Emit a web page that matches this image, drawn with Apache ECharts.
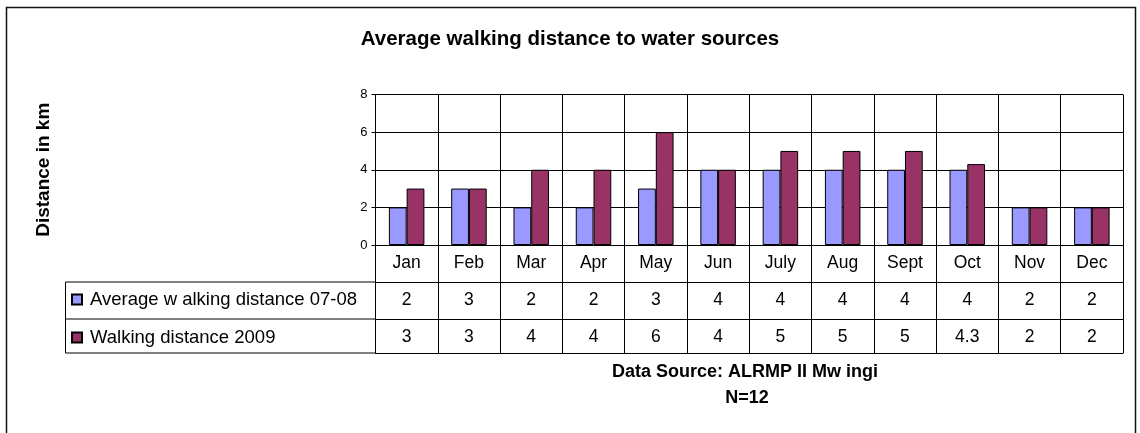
<!DOCTYPE html>
<html lang="en">
<head>
    <meta charset="UTF-8">
    <title>Average walking distance to water sources</title>
    <script src="https://cdn.jsdelivr.net/npm/echarts@6/dist/echarts.min.js"></script>
    <style>
        html, body { margin: 0; padding: 0; background: #fff; }
    </style>
</head>
<body>
<div id="main" style="width: 1140px;height:433px;"></div>
<script type="text/javascript">
    var months = ['Jan', 'Feb', 'Mar', 'Apr', 'May', 'Jun', 'July', 'Aug', 'Sept', 'Oct', 'Nov', 'Dec'];
    var avg0708 = [2, 3, 2, 2, 3, 4, 4, 4, 4, 4, 2, 2];
    var dist2009 = [3, 3, 4, 4, 6, 4, 5, 5, 5, 4.3, 2, 2];
    var seriesNames = ['Average w alking distance 07-08', 'Walking distance 2009'];

    var font = "'Liberation Sans', Arial, sans-serif";
    var plotLeft = 375.5, plotRight = 1123, plotTop = 94.5, plotBottom = 245;
    var row1 = 37, row2 = 74, row3 = 108;   // table row offsets below the plot

    var chart = echarts.init(document.getElementById('main'));

    // one category axis per table row, the first one carries the months
    function tableAxis(offset, tickLen, labels) {
        return {
            type: 'category',
            data: months,
            position: 'bottom',
            offset: offset,
            axisLine: { show: true, lineStyle: { color: '#000', width: 1 } },
            axisTick: { show: tickLen > 0, length: tickLen, lineStyle: { color: '#000' } },
            axisLabel: {
                show: !!labels,
                margin: 18,
                verticalAlign: 'middle',
                color: '#000',
                fontFamily: font,
                fontSize: 17.5,
                interval: 0,
                formatter: function (v, i) { return labels ? String(labels[i]) : ''; }
            },
            splitLine: { show: false }
        };
    }

    var xMain = tableAxis(0, row1, months);
    xMain.splitLine = { show: true, lineStyle: { color: '#000', width: 1 } };

    var option = {
        animation: false,
        textStyle: { fontFamily: font },
        title: {
            text: 'Average walking distance to water sources',
            left: 'center',
            top: 24,
            textStyle: { fontFamily: font, fontSize: 20.5, fontWeight: 'bold', color: '#000' }
        },
        legend: {
            orient: 'vertical',
            left: 71,
            top: 290,
            padding: 0,
            itemWidth: 10,
            itemHeight: 10,
            itemGap: 19,
            icon: 'rect',
            data: seriesNames,
            textStyle: { fontFamily: font, fontSize: 18.5, lineHeight: 17, color: '#000', padding: [0, 0, 0, 3] }
        },
        grid: {
            left: plotLeft,
            right: 1140 - plotRight,
            top: plotTop,
            bottom: 433 - plotBottom
        },
        xAxis: [
            xMain,
            tableAxis(row1, row2 - row1, avg0708),
            tableAxis(row2, row3 - row2, dist2009),
            tableAxis(row3, 0, null)
        ],
        yAxis: {
            type: 'value',
            min: 0,
            max: 8,
            interval: 2,
            name: 'Distance in km',
            nameLocation: 'middle',
            nameGap: 322,
            nameRotate: 90,
            nameTextStyle: { fontFamily: font, fontSize: 19, fontWeight: 'bold', color: '#000' },
            axisLine: { show: true, lineStyle: { color: '#000' } },
            axisTick: { show: true, length: 4, lineStyle: { color: '#000' } },
            axisLabel: { color: '#000', fontFamily: font, fontSize: 13, margin: 8 },
            splitLine: { show: true, lineStyle: { color: '#000', width: 1 } }
        },
        series: [{
            name: seriesNames[0],
            type: 'bar',
            data: avg0708,
            barGap: '0%',
            barCategoryGap: '43%',
            itemStyle: { color: '#9999FF', borderColor: '#000', borderWidth: 1 }
        }, {
            name: seriesNames[1],
            type: 'bar',
            data: dist2009,
            itemStyle: { color: '#993366', borderColor: '#000', borderWidth: 1 }
        }],
        graphic: [
            // outer chart frame
            { type: 'rect', shape: { x: 6.5, y: 7.5, width: 1129, height: 520 },
              style: { fill: 'none', stroke: '#111', lineWidth: 1.5 }, silent: true },
            // legend column of the data table
            { type: 'line', shape: { x1: 65.5, y1: plotBottom + row1, x2: plotLeft, y2: plotBottom + row1 },
              style: { stroke: '#000', lineWidth: 1 } },
            { type: 'line', shape: { x1: 65.5, y1: plotBottom + row2, x2: plotLeft, y2: plotBottom + row2 },
              style: { stroke: '#000', lineWidth: 1 } },
            { type: 'line', shape: { x1: 65.5, y1: plotBottom + row3, x2: plotLeft, y2: plotBottom + row3 },
              style: { stroke: '#000', lineWidth: 1 } },
            { type: 'line', shape: { x1: 65.5, y1: plotBottom + row1, x2: 65.5, y2: plotBottom + row3 },
              style: { stroke: '#000', lineWidth: 1 } },
            // source notes under the table
            { type: 'text',
              style: { text: 'Data Source: ALRMP II Mw ingi', x: 745, y: 372, textAlign: 'center', textVerticalAlign: 'middle',
                       font: 'bold 18px ' + font, fill: '#000' } },
            { type: 'text',
              style: { text: 'N=12', x: 747, y: 398, textAlign: 'center', textVerticalAlign: 'middle',
                       font: 'bold 18px ' + font, fill: '#000' } }
        ]
    };

    chart.setOption(option);
</script>
</body>
</html>
